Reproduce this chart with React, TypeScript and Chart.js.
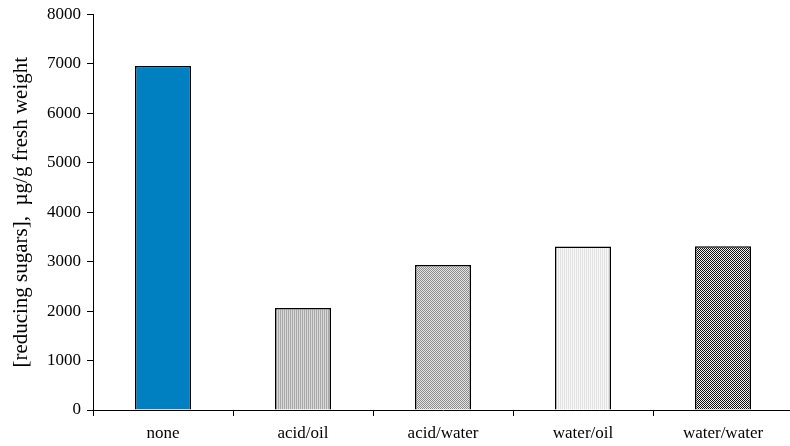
import React, { useEffect, useRef } from "react";
import { Chart, registerables } from "chart.js";

Chart.register(...registerables);

const categories = ["none", "acid/oil", "acid/water", "water/oil", "water/water"];
const sugarValues = [6960, 2065, 2935, 3305, 3310];
const yMin = 0;
const yMax = 8000;
const yStep = 1000;
const yTitle = "[reducing sugars],  \u00b5g/g fresh weight";

const FONT = "'Liberation Serif', 'Times New Roman', serif";

function makePattern(kind: string): CanvasPattern | string {
  const c = document.createElement("canvas");
  c.width = 2;
  c.height = 2;
  const g = c.getContext("2d");
  if (!g) return "#ccc";
  const fill = (col: string, x: number, y: number) => {
    g.fillStyle = col;
    g.fillRect(x, y, 1, 1);
  };
  if (kind === "vstripe-mid") {
    fill("#a9a9a9", 0, 0); fill("#a9a9a9", 0, 1);
    fill("#d8d8d8", 1, 0); fill("#d8d8d8", 1, 1);
  } else if (kind === "check-mid") {
    fill("#8a8a8a", 0, 0); fill("#8a8a8a", 1, 1);
    fill("#e6e6e6", 1, 0); fill("#e6e6e6", 0, 1);
  } else if (kind === "vstripe-light") {
    fill("#e2e2e2", 0, 0); fill("#e2e2e2", 0, 1);
    fill("#f7f7f7", 1, 0); fill("#f7f7f7", 1, 1);
  } else {
    fill("#111111", 0, 0); fill("#111111", 1, 1);
    fill("#f2f2f2", 1, 0); fill("#f2f2f2", 0, 1);
  }
  const p = g.createPattern(c, "repeat");
  return p || "#ccc";
}

export default function App() {
  const ref = useRef<HTMLCanvasElement | null>(null);

  useEffect(() => {
    document.documentElement.style.overflow = "hidden";
    document.body.style.margin = "0";
    const canvas = ref.current;
    if (!canvas) return;
    const fills = [
      "#0080C0",
      makePattern("vstripe-mid"),
      makePattern("check-mid"),
      makePattern("vstripe-light"),
      makePattern("check-dark"),
    ];
    const chart = new Chart(canvas, {
      type: "bar",
      data: {
        labels: categories,
        datasets: [
          {
            data: sugarValues,
            backgroundColor: fills as any,
            borderColor: "#000000",
            borderWidth: 1.5,
            barPercentage: 0.4,
            categoryPercentage: 1,
          },
        ],
      },
      options: {
        responsive: false,
        animation: false,
        devicePixelRatio: 1,
        layout: { padding: { top: 14, right: 7, left: 0, bottom: 0 } },
        plugins: {
          legend: { display: false },
          tooltip: { enabled: false },
          title: { display: false },
        },
        scales: {
          x: {
            offset: true,
            afterFit: (s: any) => {
              s.height = 36;
            },
            grid: {
              display: true,
              offset: true,
              drawOnChartArea: false,
              drawTicks: true,
              tickLength: 6,
              color: "#000000",
              lineWidth: 1,
            },
            border: { display: true, color: "#000000", width: 1 },
            ticks: {
              color: "#000000",
              font: { family: FONT, size: 17 },
              padding: 7,
              maxRotation: 0,
              autoSkip: false,
            },
          },
          y: {
            min: yMin,
            max: yMax,
            afterFit: (s: any) => {
              s.width = 93;
            },
            grid: {
              display: true,
              drawOnChartArea: false,
              drawTicks: true,
              tickLength: 6,
              color: "#000000",
              lineWidth: 1,
            },
            border: { display: true, color: "#000000", width: 1 },
            ticks: {
              stepSize: yStep,
              color: "#000000",
              font: { family: FONT, size: 17, lineHeight: 1 },
              padding: 6,
              callback: (v: any) => String(v),
            },
            title: {
              display: true,
              text: yTitle,
              color: "#000000",
              font: { family: FONT, size: 21 },
              padding: { top: 9, bottom: 0 },
            },
          },
        },
      },
    });
    return () => chart.destroy();
  }, []);

  return (
    <div style={{ position: "fixed", left: 0, top: 0, width: 800, height: 446 }}>
      <canvas ref={ref} width={800} height={446} style={{ width: 800, height: 446, display: "block" }} />
    </div>
  );
}
